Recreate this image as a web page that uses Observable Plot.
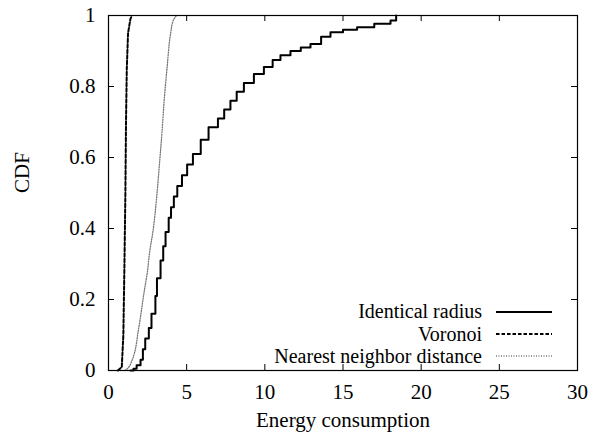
<!DOCTYPE html>
<html>
<head>
<meta charset="utf-8">
<script src="https://cdn.jsdelivr.net/npm/d3@7"></script>
<script src="https://cdn.jsdelivr.net/npm/@observablehq/plot@0.6"></script>
<style>
  html, body { margin: 0; padding: 0; background: #fff; }
  #wrap { position: relative; width: 592px; height: 438px; font-family: "Liberation Serif", "DejaVu Serif", serif; }
  #legend { position: absolute; right: 40px; top: 300.4px; font-size: 20px; color: #000; font-family: "Liberation Serif", "DejaVu Serif", serif; }
  .row { display: flex; align-items: center; justify-content: flex-end; height: 22.3px; line-height: 22.3px; white-space: nowrap; }
  .row svg { margin-left: 14px; }
</style>
</head>
<body>
<div id="wrap"></div>
<script>
// ---- data ----
const xTicks = [0, 5, 10, 15, 20, 25, 30];
const yTicks = [0, 0.2, 0.4, 0.6, 0.8, 1];
const xLabel = "Energy consumption";
const yLabel = "CDF";
const seriesNames = ["Identical radius", "Voronoi", "Nearest neighbor distance"];

const identicalX = [1.4, 1.6, 1.8, 2.05, 2.2, 2.35, 2.58, 2.75, 3.0, 3.1, 3.33, 3.5, 3.65, 3.85, 4.0, 4.18, 4.4, 4.7, 5.03, 5.4, 5.9, 6.4, 7.0, 7.4, 7.8, 8.2, 8.66, 9.3, 9.94, 10.5, 11.0, 11.64, 12.3, 12.92, 13.6, 14.2, 15.0, 15.9, 17.0, 18.04, 18.4];
const identicalY = [0, 0.005, 0.015, 0.03, 0.06, 0.09, 0.12, 0.16, 0.21, 0.26, 0.31, 0.35, 0.39, 0.43, 0.46, 0.49, 0.52, 0.55, 0.58, 0.61, 0.65, 0.685, 0.71, 0.735, 0.76, 0.785, 0.81, 0.835, 0.855, 0.875, 0.888, 0.9, 0.91, 0.92, 0.94, 0.953, 0.96, 0.967, 0.977, 0.986, 1.0];

const voronoiX = [0.6, 0.85, 0.95, 1.02, 1.08, 1.12, 1.17, 1.25, 1.4, 1.5];
const voronoiY = [0, 0.01, 0.1, 0.3, 0.5, 0.7, 0.85, 0.95, 0.99, 1.0];

const nearestX = [1.05, 1.2, 1.5, 1.94, 2.26, 2.5, 2.62, 2.85, 3.08, 3.26, 3.43, 3.56, 3.75, 3.97, 4.14, 4.35];
const nearestY = [0, 0.005, 0.028, 0.122, 0.216, 0.282, 0.33, 0.394, 0.488, 0.582, 0.676, 0.76, 0.854, 0.948, 0.986, 1.0];

const styles = [
  {stroke: "#000", strokeWidth: 2, dash: null},
  {stroke: "#000", strokeWidth: 2, dash: "3.5,2"},
  {stroke: "#777", strokeWidth: 1.3, dash: "1,1.5"}
];

const toRows = (xs, ys) => xs.map((x, i) => ({x, y: ys[i]}));
const identical = toRows(identicalX, identicalY);
const voronoi = toRows(voronoiX, voronoiY);
const nearest = toRows(nearestX, nearestY);

const W = 592, H = 438, mL = 108, mR = 15, mT = 15, mB = 68;
const fw = W - mL - mR, fh = H - mT - mB, tick = 6;
const fmt = d => String(d);

const chart = Plot.plot({
  width: W,
  height: H,
  marginLeft: mL,
  marginRight: mR,
  marginTop: mT,
  marginBottom: mB,
  style: {fontFamily: '"Liberation Serif", "DejaVu Serif", serif', fontSize: "21px", background: "#fff", color: "#000"},
  x: {domain: [0, 30]},
  y: {domain: [0, 1]},
  marks: [
    Plot.axisX(xTicks, {tickSize: 0, tickPadding: 14, tickFormat: fmt, label: null}),
    Plot.axisY(yTicks, {tickSize: 0, tickPadding: 13, tickFormat: fmt, label: null}),
    // inward mirrored ticks
    Plot.tickX(xTicks, {x: d => d, insetTop: fh - tick, stroke: "#000"}),
    Plot.tickX(xTicks, {x: d => d, insetBottom: fh - tick, stroke: "#000"}),
    Plot.tickY(yTicks, {y: d => d, insetRight: fw - tick, stroke: "#000"}),
    Plot.tickY(yTicks, {y: d => d, insetLeft: fw - tick, stroke: "#000"}),
    Plot.line(nearest, {x: "x", y: "y", stroke: styles[2].stroke, strokeWidth: styles[2].strokeWidth, strokeDasharray: styles[2].dash, curve: "monotone-y"}),
    Plot.line(voronoi, {x: "x", y: "y", stroke: styles[1].stroke, strokeWidth: styles[1].strokeWidth, strokeDasharray: styles[1].dash, curve: "linear"}),
    Plot.line(identical, {x: "x", y: "y", stroke: styles[0].stroke, strokeWidth: styles[0].strokeWidth, curve: "step-after"}),
    Plot.frame({stroke: "#000", strokeWidth: 1.2}),
    Plot.text([xLabel], {frameAnchor: "bottom", dy: 56, text: d => d, fill: "#000"}),
    Plot.text([yLabel], {frameAnchor: "left", dx: -86, rotate: -90, text: d => d, fill: "#000"})
  ]
});

const wrap = document.getElementById("wrap");
wrap.appendChild(chart);

const legend = document.createElement("div");
legend.id = "legend";
seriesNames.forEach((name, i) => {
  const row = document.createElement("div");
  row.className = "row";
  const span = document.createElement("span");
  span.textContent = name;
  row.appendChild(span);
  const svg = d3.create("svg").attr("width", 56).attr("height", 10);
  svg.append("line").attr("x1", 0).attr("x2", 56).attr("y1", 5).attr("y2", 5)
    .attr("stroke", styles[i].stroke).attr("stroke-width", styles[i].strokeWidth)
    .attr("stroke-dasharray", styles[i].dash);
  row.appendChild(svg.node());
  legend.appendChild(row);
});
wrap.appendChild(legend);
</script>
</body>
</html>
